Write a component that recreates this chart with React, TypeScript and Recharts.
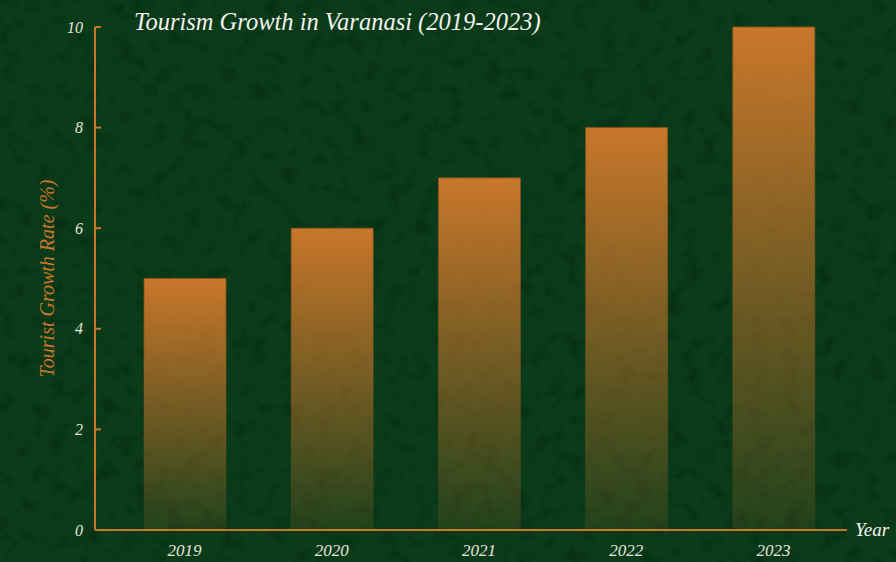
import React from 'react';
import { BarChart, Bar, XAxis, YAxis } from 'recharts';

const years = ['2019', '2020', '2021', '2022', '2023'];
const growthRates = [5, 6, 7, 8, 10];
const yTicks = [0, 2, 4, 6, 8, 10];

const chartData = years.map((year, i) => ({ year, growth: growthRates[i] }));

const ORANGE = '#c9772b';
const FONT = '"Liberation Serif", serif';
const TICK_TEXT = { fill: '#e6e6dc', fontSize: 17, fontStyle: 'italic', fontFamily: FONT };

const App = () => {
  return (
    <div style={{ position: 'absolute', left: 0, top: 0, width: 896, height: 562, background: '#0b3b1a', overflow: 'hidden' }}>
      {/* textured green backdrop, darker mottling only */}
      <svg width={896} height={562} style={{ position: 'absolute', left: 0, top: 0 }}>
        <defs>
          <filter id="grain" x="0" y="0" width="100%" height="100%" colorInterpolationFilters="sRGB">
            <feTurbulence type="fractalNoise" baseFrequency="0.06" numOctaves={4} seed={7} />
            <feColorMatrix type="matrix" values="0 0 0 0 0.02  0 0 0 0 0.17  0 0 0 0 0.07  1.8 0 0 0 -0.82" />
          </filter>
        </defs>
        <rect width={896} height={562} fill="#0b3c1a" />
        <rect width={896} height={562} filter="url(#grain)" />
      </svg>
      <div style={{ position: 'absolute', left: 0, top: 0 }}>
        <BarChart
          width={896}
          height={562}
          data={chartData}
          margin={{ top: 27, right: 49, left: 0, bottom: 0 }}
        >
          <defs>
            <linearGradient id="barFade" x1="0" y1="0" x2="0" y2="1">
              <stop offset="0%" stopColor={ORANGE} stopOpacity={1} />
              <stop offset="100%" stopColor={ORANGE} stopOpacity={0.12} />
            </linearGradient>
            <linearGradient id="barEdge" x1="0" y1="0" x2="0" y2="1">
              <stop offset="0%" stopColor="#8a521c" stopOpacity={0.9} />
              <stop offset="100%" stopColor="#8a521c" stopOpacity={0.1} />
            </linearGradient>
          </defs>
          <text x={134} y={30} fill="#f2f2ee" fontSize={24.5} fontStyle="italic" fontFamily={FONT}>
            Tourism Growth in Varanasi (2019-2023)
          </text>
          <XAxis
            dataKey="year"
            height={32}
            padding={{ left: 16, right: 0 }}
            axisLine={{ stroke: ORANGE, strokeWidth: 2 }}
            tickLine={false}
            tick={{ ...TICK_TEXT, dy: 6 }}
            label={{ value: 'Year', position: 'right', offset: 8, dy: -17, fill: '#f2f2ee', fontSize: 19, fontStyle: 'italic', fontFamily: FONT }}
          />
          <YAxis
            width={95}
            domain={[0, 10]}
            ticks={yTicks}
            tickSize={-6}
            tickMargin={18}
            axisLine={{ stroke: ORANGE, strokeWidth: 2 }}
            tickLine={{ stroke: ORANGE, strokeWidth: 2 }}
            tick={{ ...TICK_TEXT, fontSize: 16 }}
            label={{ value: 'Tourist Growth Rate (%)', angle: -90, position: 'center', dx: -1, fill: ORANGE, fontSize: 20, fontStyle: 'italic', fontFamily: FONT }}
          />
          <Bar dataKey="growth" fill="url(#barFade)" stroke="url(#barEdge)" strokeWidth={1} barSize={82} isAnimationActive={false} />
        </BarChart>
      </div>
    </div>
  );
};

export default App;
